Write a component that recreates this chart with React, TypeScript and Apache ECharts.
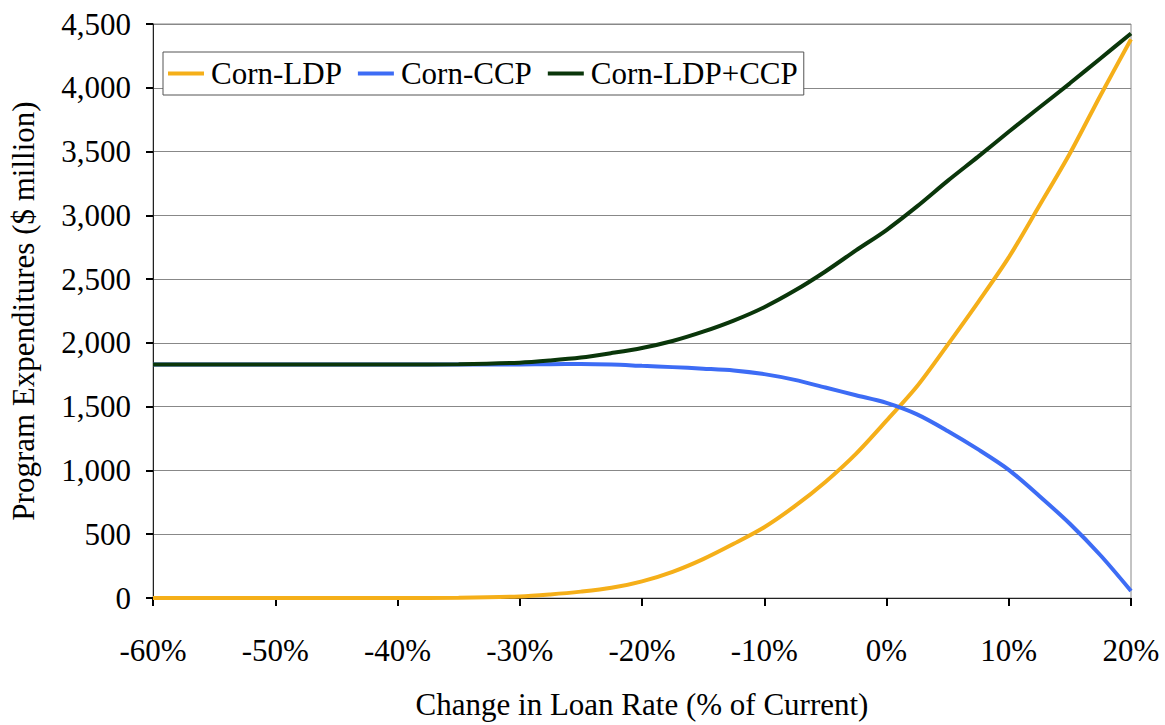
import React, { useEffect, useRef } from "react";
import * as echarts from "echarts";

const xValues = [-60, -55, -50, -45, -40, -35, -30, -27.5, -25, -22.5, -20, -17.5, -15, -12.5, -10, -7.5, -5, -2.5, 0, 2.5, 5, 7.5, 10, 12.5, 15, 17.5, 20];
const ldp = [0, 0, 0, 0, 0, 2, 12, 28, 50, 80, 130, 205, 305, 425, 555, 720, 910, 1130, 1390, 1660, 1985, 2320, 2670, 3075, 3485, 3940, 4380];
const ccp = [1830, 1830, 1830, 1830, 1830, 1830, 1831, 1833, 1834, 1830, 1820, 1810, 1798, 1784, 1755, 1710, 1650, 1590, 1530, 1440, 1310, 1165, 1005, 800, 582, 335, 55];
const total = [1830, 1830, 1830, 1830, 1830, 1833, 1845, 1862, 1885, 1920, 1960, 2015, 2088, 2175, 2280, 2410, 2560, 2725, 2885, 3070, 3270, 3460, 3655, 3845, 4035, 4230, 4425];
const seriesNames = ["Corn-LDP", "Corn-CCP", "Corn-LDP+CCP"];
const colors = ["#F5AF19", "#3D6CF5", "#0A360A"];

const FONT = "'Liberation Serif', 'Times New Roman', serif";
const FS = 31;

export default function App() {
  const ref = useRef<HTMLDivElement>(null);
  useEffect(() => {
    const chart = echarts.init(ref.current!, null, { renderer: "svg" });
    const mk = (vals: number[]) => xValues.map((x, i) => [x, vals[i]]);
    const datas = [ldp, ccp, total];
    chart.setOption({
      animation: false,
      backgroundColor: "#ffffff",
      textStyle: { fontFamily: FONT },
      grid: {
        left: 152,
        right: 34,
        top: 24,
        bottom: 120,
        show: true,
        borderColor: "#888",
        borderWidth: 1,
      },
      legend: {
        left: 163,
        top: 52,
        orient: "horizontal",
        data: seriesNames,
        itemWidth: 36,
        itemHeight: 4,
        itemGap: 16,
        icon: "rect",
        borderColor: "#555",
        borderWidth: 1,
        backgroundColor: "#fff",
        padding: [6, 6, 6, 5],
        textStyle: { fontFamily: FONT, fontSize: FS, color: "#000", padding: [0, 0, 0, 2] },
      },
      xAxis: {
        type: "value",
        min: -60,
        max: 20,
        interval: 10,
        name: "Change in Loan Rate (% of Current)",
        nameLocation: "middle",
        nameGap: 91,
        nameTextStyle: { fontFamily: FONT, fontSize: FS, color: "#000" },
        axisLine: { show: true, onZero: false, lineStyle: { color: "#222", width: 1 } },
        axisTick: { show: true, inside: false, length: 8, lineStyle: { color: "#000", width: 2 } },
        axisLabel: {
          formatter: (v: number) => `${v}%`,
          fontFamily: FONT,
          fontSize: FS,
          color: "#000",
          margin: 37,
        },
        splitLine: { show: false },
      },
      yAxis: {
        type: "value",
        min: 0,
        max: 4500,
        interval: 500,
        name: "Program Expenditures ($ million)",
        nameLocation: "middle",
        nameGap: 114,
        nameRotate: 90,
        nameTextStyle: { fontFamily: FONT, fontSize: FS, color: "#000" },
        axisLine: { show: true, onZero: false, lineStyle: { color: "#222", width: 1 } },
        axisTick: { show: true, inside: false, length: 7, lineStyle: { color: "#000", width: 2 } },
        axisLabel: {
          formatter: (v: number) => v.toLocaleString("en-US"),
          fontFamily: FONT,
          fontSize: FS,
          color: "#000",
          margin: 22,
        },
        splitLine: { show: true, lineStyle: { color: "#888", width: 1 } },
      },
      series: seriesNames.map((name, i) => ({
        name,
        type: "line",
        data: mk(datas[i]),
        smooth: 0.3,
        showSymbol: false,
        symbol: "none",
        lineStyle: { color: colors[i], width: 4 },
        itemStyle: { color: colors[i] },
        z: i === 2 ? 3 : 2,
      })),
    });
    return () => chart.dispose();
  }, []);
  return <div ref={ref} style={{ width: 1165, height: 725, position: "absolute", left: 0, top: 0 }} />;
}
